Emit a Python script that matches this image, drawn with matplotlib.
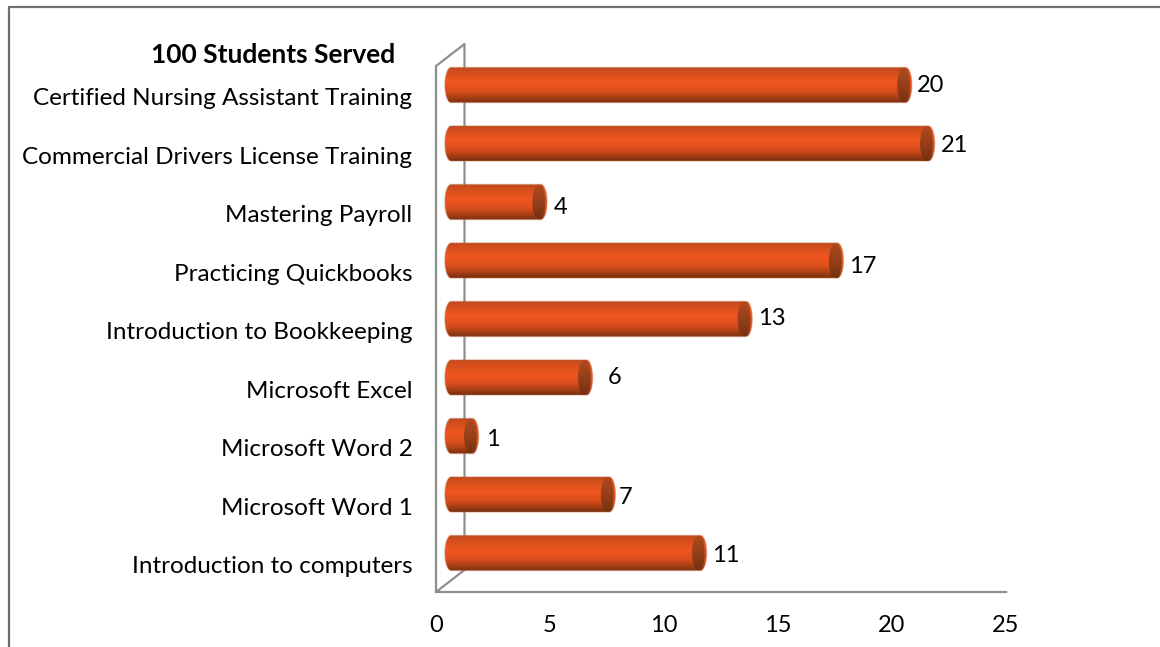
import matplotlib
matplotlib.use('Agg')
import matplotlib.pyplot as plt
from matplotlib.colors import LinearSegmentedColormap
from matplotlib.patches import Ellipse, PathPatch
from matplotlib.path import Path
import numpy as np

W, H = 1160, 647

courses = ['Certified Nursing Assistant Training', 'Commercial Drivers License Training',
           'Mastering Payroll', 'Practicing Quickbooks', 'Introduction to Bookkeeping',
           'Microsoft Excel', 'Microsoft Word 2', 'Microsoft Word 1', 'Introduction to computers']
students = [20, 21, 4, 17, 13, 6, 1, 7, 11]
# hand placed value labels in the original, nudges in pixels
nudge_x = [-2, -1, 0, -1, -1, 8, 0, -4, -2]
nudge_y = [0, 2, 5, 6, 0, 0, 4, 3, 3]
xticks = [0, 5, 10, 15, 20, 25]

plt.rcParams['font.family'] = ['Lato', 'DejaVu Sans']

body = LinearSegmentedColormap.from_list('body', [
    (0.0, '#b5471c'), (0.1, '#cf4d1c'), (0.42, '#f0561f'), (0.68, '#d94e1c'),
    (0.88, '#a03c14'), (1.0, '#74300f')])
end_cap = LinearSegmentedColormap.from_list('cap', [
    (0.0, '#b04a1e'), (0.5, '#96401a'), (1.0, '#74300f')])
grad = np.linspace(0, 1, 128).reshape(-1, 1)

fig = plt.figure(figsize=(W / 100, H / 100), dpi=100)
ax = fig.add_axes([436 / W, (H - 592) / H, (1006 - 436) / W, (592 - 44) / H])

# the outer frame of the pasted chart, only left and top
fig.add_artist(plt.Line2D([9 / W, 9 / W, 1], [0, (H - 7) / H, (H - 7) / H], color='#6e6e6e', lw=1.6))

top_px, bottom_px = -0.701, 8.667
depth = 1.25
line_kw = dict(color='#8e8e8e', lw=1.6, clip_on=False, zorder=1, solid_capstyle='round')
ax.plot([0, 0, depth, depth], [bottom_px, -0.325, top_px, 8.29], **line_kw)
ax.plot([depth, 0, 25.02], [8.29, bottom_px, bottom_px], **line_kw)

half = 0.3
rx = 0.27
for i, v in enumerate(students):
    x0, x1 = 0.39, v + 0.87
    t = np.linspace(np.pi / 2, 3 * np.pi / 2, 30)
    left = np.c_[x0 + rx + rx * np.cos(t), i + half * np.sin(-t) * -1]
    t2 = np.linspace(-np.pi / 2, np.pi / 2, 30)
    right = np.c_[x1 - rx + rx * np.cos(t2), i + half * np.sin(t2)]
    outline = np.vstack([left, right, left[:1]])
    im = ax.imshow(grad, cmap=body, aspect='auto', extent=(x0, x1, i + half, i - half), zorder=3)
    clip = PathPatch(Path(outline), transform=ax.transData, fc='none', ec='none')
    ax.add_patch(clip)
    im.set_clip_path(clip)
    # soft edge
    ax.add_patch(PathPatch(Path(outline), fc='none', ec='#c8744f', lw=1.0, alpha=0.4, zorder=4))
    im2 = ax.imshow(grad, cmap=end_cap, aspect='auto',
                    extent=(x1 - 2 * rx - 0.12, x1 - 0.06, i + half, i - half), zorder=5)
    cap = Ellipse((x1 - rx - 0.09, i), 2 * rx + 0.02, 2 * half - 0.01, transform=ax.transData, fc='none', ec='none')
    ax.add_patch(cap)
    im2.set_clip_path(cap)
    ax.annotate(str(v), (x1, i), xytext=(5 + nudge_x[i] * 0.72, -nudge_y[i] * 0.72), textcoords='offset points',
                fontsize=17, color='black', va='center', ha='left', zorder=6)

ax.set_xlim(0, 25)
ax.set_ylim(bottom_px, top_px)
for s in ax.spines.values():
    s.set_visible(False)
ax.patch.set_alpha(0)
ax.set_xticks(xticks)
ax.set_yticks(np.arange(len(courses)) + 0.2)
ax.set_yticklabels(courses)
ax.tick_params(axis='x', length=0, labelsize=17, pad=16.5, colors='black')
ax.tick_params(axis='y', length=0, labelsize=17.5, pad=17, colors='black')

fig.text(273 / W, (H - 55) / H, '100 Students Served', fontsize=19, fontweight='bold', ha='center', va='center')

fig.savefig('out.png', dpi=100, facecolor='white')
